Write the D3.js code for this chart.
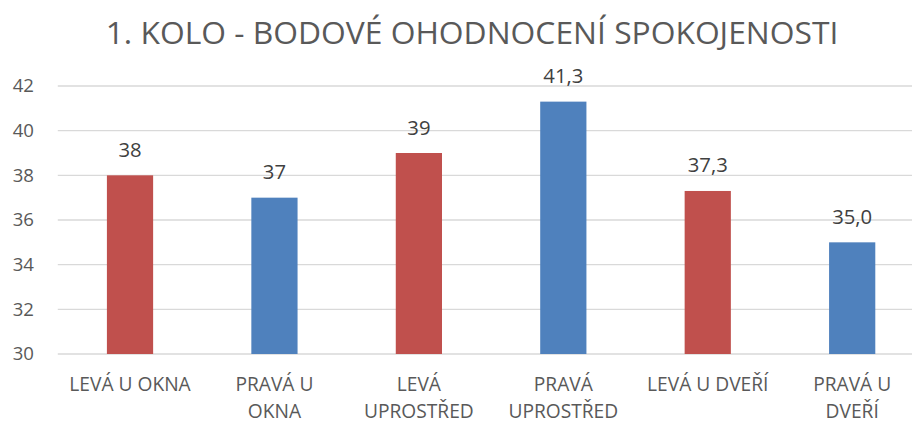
<!DOCTYPE html>
<html>
<head>
<meta charset="utf-8">
<script src="https://cdn.jsdelivr.net/npm/d3@7"></script>
<style>
  html, body { margin: 0; padding: 0; background: #fff; }
  svg { display: block; font-family: "Open Sans", "Noto Sans", sans-serif; }
</style>
</head>
<body>
<svg id="chart" width="912" height="423"></svg>
<script>
// Satisfaction scores per seat position, round 1
const categories = ["LEVÁ U OKNA", "PRAVÁ U OKNA", "LEVÁ UPROSTŘED", "PRAVÁ UPROSTŘED", "LEVÁ U DVEŘÍ", "PRAVÁ U DVEŘÍ"];
const labelLines = [["LEVÁ U OKNA"], ["PRAVÁ U", "OKNA"], ["LEVÁ", "UPROSTŘED"], ["PRAVÁ", "UPROSTŘED"], ["LEVÁ U DVEŘÍ"], ["PRAVÁ U", "DVEŘÍ"]];
const values = [38, 37, 39, 41.3, 37.3, 35.0];
const decimals = [0, 0, 0, 1, 1, 1];
const side = ["L", "P", "L", "P", "L", "P"];
const yTicks = [30, 32, 34, 36, 38, 40, 42];
const title = "1. KOLO - BODOVÉ OHODNOCENÍ SPOKOJENOSTI";

const colors = { L: "#C0504D", P: "#4F81BD" };

const svg = d3.select("#chart");

const x = d3.scaleBand().domain(categories).range([57.8, 924.4]).padding(0);
const y = d3.scaleLinear().domain([30, 42]).range([354, 86]);
const barW = x.bandwidth() * 0.32;

// title
svg.append("text")
  .attr("x", 472).attr("y", 44)
  .attr("text-anchor", "middle")
  .attr("fill", "#595959")
  .attr("font-size", 31.8)
  .text(title);

// gridlines
svg.append("g")
  .selectAll("line")
  .data(yTicks)
  .join("line")
  .attr("x1", x.range()[0]).attr("x2", x.range()[1])
  .attr("y1", d => y(d)).attr("y2", d => y(d))
  .attr("stroke", "#D9D9D9")
  .attr("stroke-width", 1.3);

// y axis labels
const yAxis = d3.axisLeft(y).tickValues(yTicks).tickSize(0).tickPadding(0).tickFormat(d3.format("d"));
const yg = svg.append("g").attr("transform", "translate(34,0)").call(yAxis);
yg.select(".domain").remove();
yg.selectAll("text")
  .attr("fill", "#595959")
  .attr("font-size", 18.6)
  .attr("font-family", "'Open Sans', sans-serif");

// bars
svg.append("g")
  .selectAll("rect")
  .data(values)
  .join("rect")
  .attr("x", (d, i) => x(categories[i]) + (x.bandwidth() - barW) / 2)
  .attr("y", d => y(d))
  .attr("width", barW)
  .attr("height", d => y(30) - y(d))
  .attr("fill", (d, i) => colors[side[i]]);

// value labels
const fmt = (v, dp) => v.toFixed(dp).replace(".", ",");
svg.append("g")
  .selectAll("text")
  .data(values)
  .join("text")
  .attr("x", (d, i) => x(categories[i]) + x.bandwidth() / 2)
  .attr("y", d => y(d) - 18.5)
  .attr("text-anchor", "middle")
  .attr("fill", "#404040")
  .attr("font-size", 20.3)
  .text((d, i) => fmt(d, decimals[i]));

// category labels
const xl = svg.append("g")
  .selectAll("text")
  .data(categories)
  .join("text")
  .attr("x", d => x(d) + x.bandwidth() / 2)
  .attr("y", 391)
  .attr("text-anchor", "middle")
  .attr("fill", "#595959")
  .attr("font-size", 19.2);
xl.selectAll("tspan")
  .data((d, i) => labelLines[i])
  .join("tspan")
  .attr("x", function () { return this.parentNode.getAttribute("x"); })
  .attr("dy", (d, j) => j === 0 ? 0 : 26.5)
  .text(d => d);
</script>
</body>
</html>
